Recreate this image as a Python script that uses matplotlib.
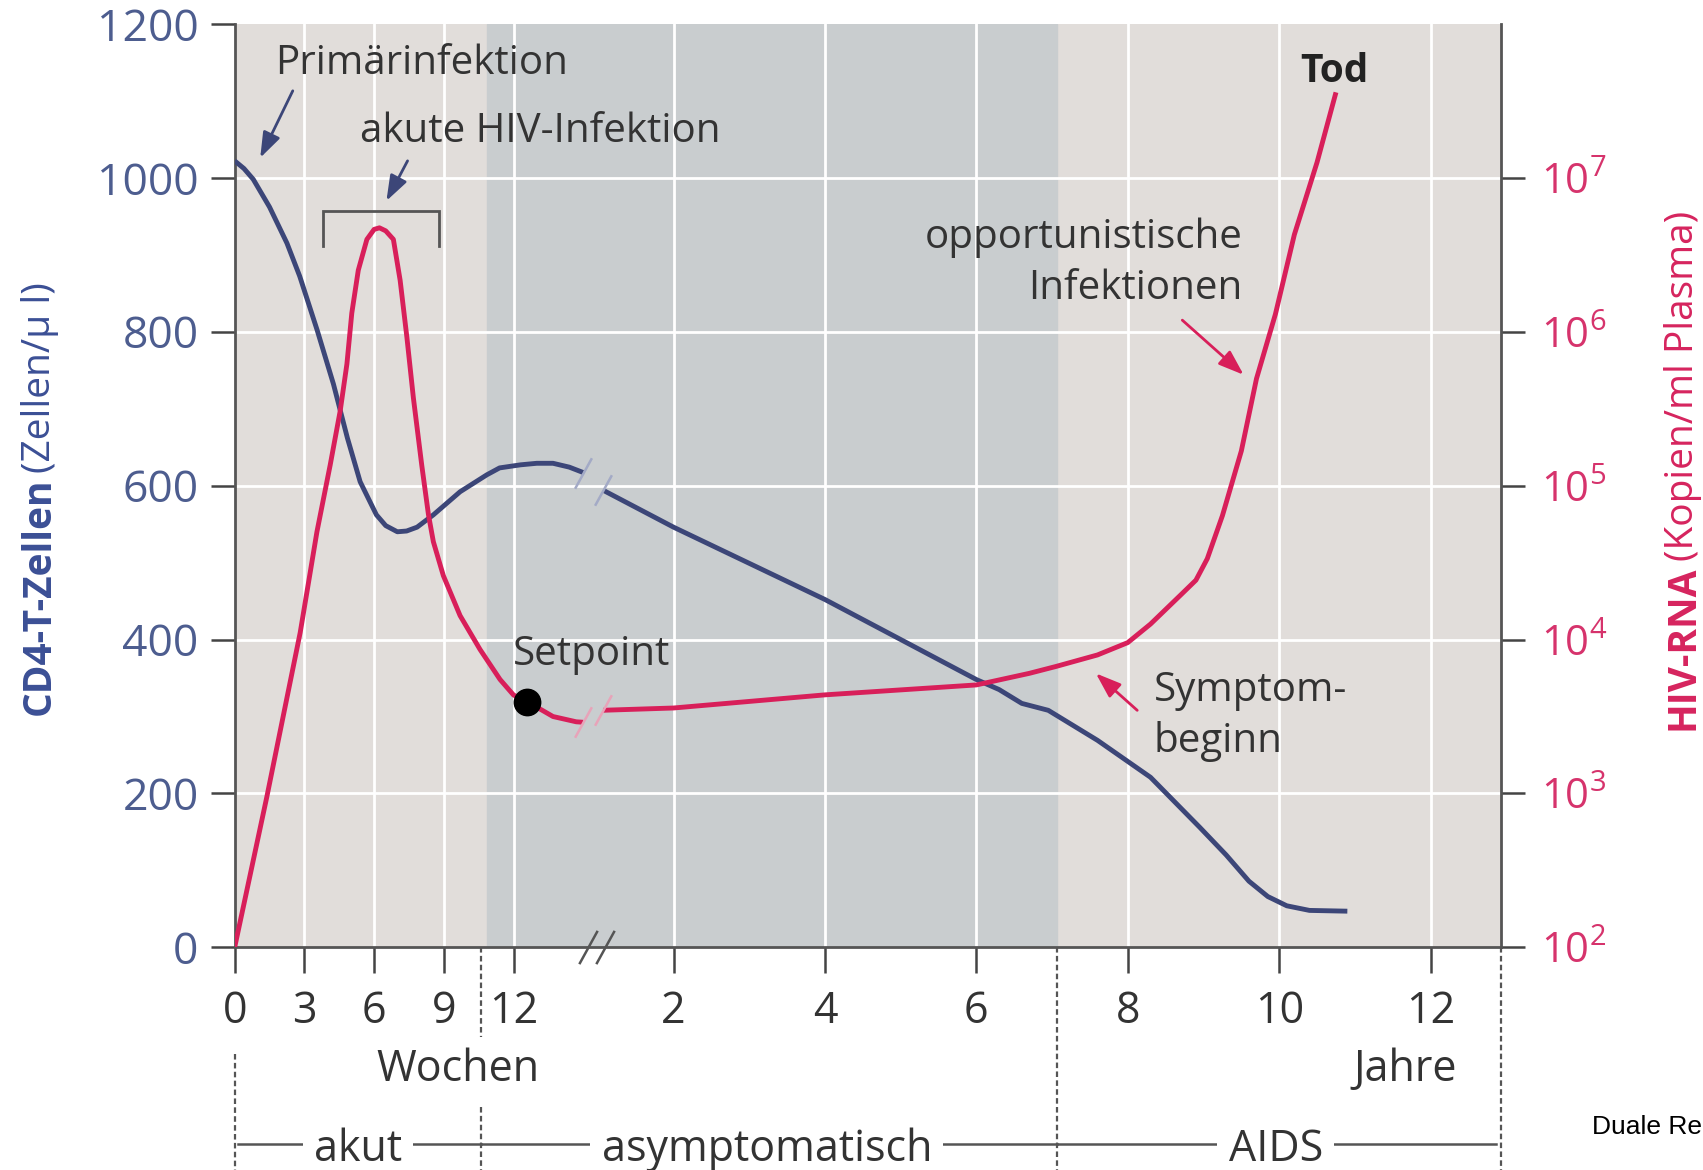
import numpy as np
import matplotlib.pyplot as plt
from matplotlib.transforms import blended_transform_factory
from matplotlib.ticker import NullLocator

plt.rcParams['font.family'] = ['Open Sans', 'DejaVu Sans']

# CD4-T-Zellen (Zellen/µl) - first weeks
cd4_weeks = [0, 0.4, 0.8, 1.5, 2.25, 2.8, 3.55, 4.25, 4.85, 5.4, 6.1, 6.5, 7.0, 7.4, 7.85, 8.55, 9.7,
             10.85, 11.4, 12.3, 13.0, 13.7, 14.4, 15.0]
cd4_weeks_val = [1022, 1012, 998, 962, 915, 872, 802, 732, 662, 605, 562, 548, 540, 541, 546, 562, 592,
                 614, 623, 627, 629, 629, 624, 617]

# CD4-T-Zellen - later course in years
cd4_years = [1.07, 2.0, 4.0, 6.0, 6.3, 6.6, 6.95, 7.6, 8.3, 8.95, 9.3, 9.6, 9.85, 10.1, 10.4, 10.9]
cd4_years_val = [594, 546, 452, 348, 335, 317, 308, 269, 221, 156, 120, 86, 66, 54, 48, 47]

# HIV-RNA (Kopien/ml Plasma) - first weeks
rna_weeks = [0, 1.38, 2.82, 3.54, 4.11, 4.54, 4.83, 5.04, 5.32, 5.69, 6.0, 6.23, 6.5, 6.83, 7.12,
             7.41, 7.69, 8.05, 8.34, 8.55, 8.98, 9.7, 10.56, 11.42, 12.0, 12.6, 13.7, 14.7, 15.0]
rna_weeks_val = [1e2, 944, 1.11e4, 5.01e4, 1.36e5, 3.05e5, 6.17e5, 1.32e6, 2.51e6, 3.98e6, 4.62e6,
                 4.73e6, 4.52e6, 3.98e6, 2.16e6, 9.23e5, 3.72e5, 1.36e5, 6.46e4, 4.32e4, 2.60e4,
                 1.43e4, 8.61e3, 5.50e3, 4.36e3, 3.94e3, 3.16e3, 2.92e3, 2.90e3]

# HIV-RNA - later course in years
rna_years = [1.07, 2.0, 4.0, 6.0, 6.7, 7.05, 7.6, 8.0, 8.3, 8.7, 8.9, 9.05, 9.25, 9.5, 9.7, 9.95, 10.2, 10.5, 10.75]
rna_years_val = [3.47e3, 3.59e3, 4.37e3, 5.07e3, 6.03e3, 6.68e3, 7.94e3, 9.55e3, 1.26e4, 1.95e4, 2.43e4,
                 3.35e4, 6.38e4, 1.68e5, 4.95e5, 1.30e6, 4.27e6, 1.26e7, 3.59e7]

setpoint_week, setpoint_val = 12.6, 3.94e3

week_ticks = [0, 3, 6, 9, 12]
year_ticks = [2, 4, 6, 8, 10, 12]
cd4_ticks = [0, 200, 400, 600, 800, 1000, 1200]
rna_ticks = [1e2, 1e3, 1e4, 1e5, 1e6, 1e7]
rna_tick_labels = [r'$\mathregular{10^{%d}}$' % e for e in range(2, 8)]

phase_names = ['akut', 'asymptomatisch', 'AIDS']

blue = '#3c4678'
pink = '#d81f5a'
dark = '#333333'
axis_col = '#555555'


# broken x axis: weeks on the left, years on the right
def ypos(yr):
    return 12.37 + 3.258 * np.asarray(yr, dtype=float)


x_end = float(ypos(12.93))
aids_start = float(ypos(7.07))
acute_end = 10.6

fig = plt.figure(figsize=(17.03, 11.70), dpi=100)
ax = fig.add_axes([0.1378, 0.1903, 0.7436, 0.7893])
ax2 = ax.twinx()

ax.set_xlim(0, x_end)
ax.set_ylim(0, 1200)
ax2.set_yscale('log')
ax2.set_ylim(1e2, 1e8)

# background bands and white grid
ax.axvspan(0, x_end, color='#e1ddda', zorder=0)
ax.axvspan(10.85, aids_start, color='#c9cdcf', zorder=0)
for w in week_ticks[1:]:
    ax.axvline(w, color='white', lw=2, zorder=1)
for y in year_ticks:
    ax.axvline(float(ypos(y)), color='white', lw=2, zorder=1)
for v in cd4_ticks[1:-1]:
    ax.axhline(v, color='white', lw=2, zorder=1)

# curves
style = dict(lw=3.5, zorder=3, solid_capstyle='butt', solid_joinstyle='round')
ax.plot(cd4_weeks, cd4_weeks_val, color=blue, **style)
ax.plot(ypos(cd4_years), cd4_years_val, color=blue, **style)
ax2.plot(rna_weeks, rna_weeks_val, color=pink, **style)
ax2.plot(ypos(rna_years), rna_years_val, color=pink, **style)
ax2.plot([setpoint_week], [setpoint_val], 'o', color='black', ms=19, zorder=5)

# break marks
slash = [(-0.55, -1), (0.55, 1)]
bx = [15.0, float(ypos(1.07))]
ax.plot(bx, [cd4_weeks_val[-1], cd4_years_val[0]], ls='none', marker=slash, ms=22,
        mec='#a3aac6', mew=1.8, zorder=4)
ax2.plot(bx, [rna_weeks_val[-1], rna_years_val[0]], ls='none', marker=slash, ms=22,
         mec='#e8a3b9', mew=1.8, zorder=4)
ax.plot([15.2, 15.95], [0, 0], ls='none', marker=slash, ms=24, mec=axis_col, mew=1.8,
        zorder=6, clip_on=False)

# spines and ticks
for s in ['top', 'right']:
    ax.spines[s].set_visible(False)
for s in ['top', 'left', 'bottom']:
    ax2.spines[s].set_visible(False)
for sp in [ax.spines['left'], ax.spines['bottom'], ax2.spines['right']]:
    sp.set_color(axis_col)
    sp.set_linewidth(2)

ax.set_yticks(cd4_ticks)
ax.tick_params(axis='y', length=17, width=1.8, color='#444444', labelcolor='#4d5d8f',
               labelsize=32, pad=9)
ax.set_xticks(week_ticks + list(ypos(year_ticks)))
ax.set_xticklabels([str(w) for w in week_ticks] + [str(y) for y in year_ticks])
ax.tick_params(axis='x', length=19, width=1.8, color='#444444', labelcolor=dark,
               labelsize=31, pad=11)
ax2.set_yticks(rna_ticks)
ax2.set_yticklabels(rna_tick_labels)
ax2.yaxis.set_minor_locator(NullLocator())
ax2.tick_params(axis='y', length=17, width=1.8, color='#444444', labelcolor='#d6336c',
                labelsize=30, pad=12)

# annotations
fs = 29
ax.text(8.03, 1135, 'Primärinfektion', ha='center', va='baseline', fontsize=fs, color=dark, zorder=6)
ax.text(13.17, 1047, 'akute HIV-Infektion', ha='center', va='baseline', fontsize=fs, color=dark, zorder=6)
ax.text(15.36, 367, 'Setpoint', ha='center', va='baseline', fontsize=fs, color=dark, zorder=6)
ax.text(43.37, 909, 'opportunistische', ha='right', va='baseline', fontsize=fs, color=dark, zorder=6)
ax.text(43.37, 843, 'Infektionen', ha='right', va='baseline', fontsize=fs, color=dark, zorder=6)
ax.text(47.34, 1125, 'Tod', ha='center', va='baseline', fontsize=28, fontweight='bold', color='#222222', zorder=6)
ax.text(39.55, 320, 'Symptom-', ha='left', va='baseline', fontsize=fs, color=dark, zorder=6)
ax.text(39.55, 254, 'beginn', ha='left', va='baseline', fontsize=fs, color=dark, zorder=6)

arrow = '-|>,head_length=0.7,head_width=0.25'
ax.annotate('', xy=(1.1, 1026), xytext=(2.5, 1113),
            arrowprops=dict(arrowstyle=arrow, color=blue, lw=2, mutation_scale=22, shrinkA=0, shrinkB=0))
ax.annotate('', xy=(6.53, 970), xytext=(7.44, 1022),
            arrowprops=dict(arrowstyle=arrow, color=blue, lw=2, mutation_scale=22, shrinkA=0, shrinkB=0))
ax.annotate('', xy=(43.42, 744), xytext=(40.78, 815),
            arrowprops=dict(arrowstyle=arrow, color=pink, lw=2, mutation_scale=22, shrinkA=0, shrinkB=0))
ax.annotate('', xy=(37.06, 356), xytext=(38.84, 308),
            arrowprops=dict(arrowstyle=arrow, color=pink, lw=2, mutation_scale=22, shrinkA=0, shrinkB=0))

# bracket over the acute peak
ax.plot([3.82, 3.82, 8.81, 8.81], [911, 957, 957, 911], color=axis_col, lw=2, zorder=6,
        solid_joinstyle='miter')

# below the axis: units and phases
tb = blended_transform_factory(ax.transData, ax.transAxes)
ax.text(9.59, -0.145, 'Wochen', transform=tb, ha='center', va='baseline', fontsize=31, color=dark)
ax.text(50.37, -0.145, 'Jahre', transform=tb, ha='center', va='baseline', fontsize=31, color=dark)

dot = dict(color=axis_col, lw=1.6, ls=(0, (2.5, 1.5)), transform=tb, clip_on=False)
ax.plot([0, 0], [-0.115, -0.26], **dot)
ax.plot([acute_end, acute_end], [0, -0.097], **dot)
ax.plot([acute_end, acute_end], [-0.173, -0.26], **dot)
ax.plot([aids_start, aids_start], [0, -0.26], **dot)
ax.plot([x_end, x_end], [0, -0.26], **dot)

line_y = -0.213
bounds = [(0.15, acute_end), (acute_end, aids_start), (aids_start, x_end - 0.2)]
centers = [5.3, 22.9, 44.8]
for (a, b), c, name in zip(bounds, centers, phase_names):
    ax.plot([a, b], [line_y, line_y], color=axis_col, lw=1.8, transform=tb, clip_on=False)
    ax.text(c, -0.231, name, transform=tb, ha='center', va='baseline', fontsize=31, color=dark,
            bbox=dict(facecolor='white', edgecolor='none', pad=8))

fig.text(0.935, 0.037, 'Duale Re', fontsize=19, family='Liberation Sans', color='black',
         ha='left', va='center')


# axis titles with bold and regular part
def axis_title(x, y0, bold, regular, color):
    t1 = fig.text(x, y0, bold, rotation=90, rotation_mode='anchor', ha='left', va='baseline',
                  fontsize=28, fontweight='bold', color=color)
    fig.canvas.draw()
    bb = t1.get_window_extent()
    fig.text(x, bb.y1 / fig.bbox.height + 0.004, regular, rotation=90, rotation_mode='anchor',
             ha='left', va='baseline', fontsize=28, color=color)


axis_title(0.0293, 0.389, 'CD4-T-Zellen', '(Zellen/µ l)', '#3b4f95')
axis_title(0.9943, 0.376, 'HIV-RNA', '(Kopien/ml Plasma)', '#d6245e')

fig.savefig('out.png', dpi=100)
